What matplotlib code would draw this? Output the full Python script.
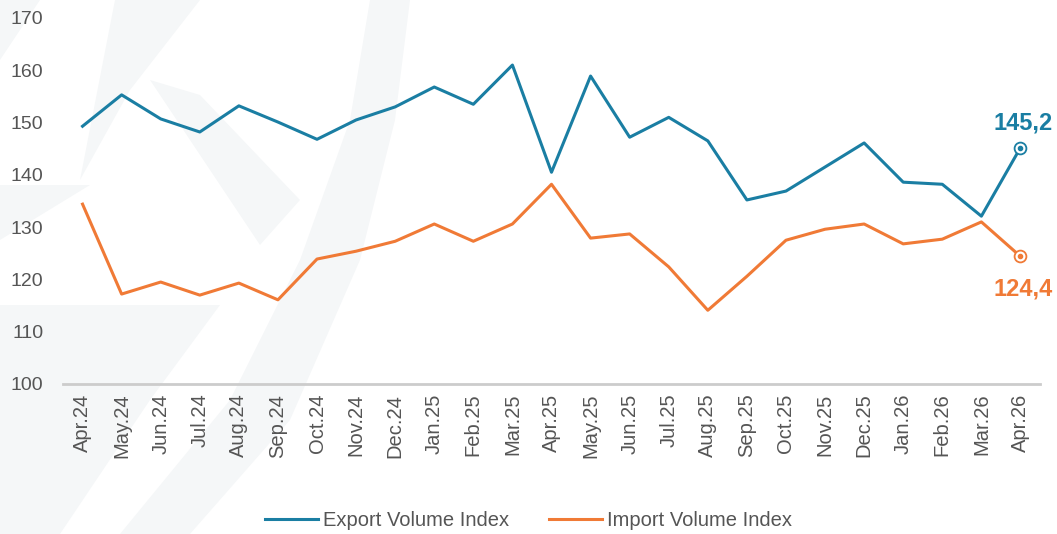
import matplotlib
matplotlib.use("Agg")
import matplotlib.pyplot as plt
from matplotlib.patches import Polygon

months = ["Apr.24", "May.24", "Jun.24", "Jul.24", "Aug.24", "Sep.24", "Oct.24", "Nov.24",
          "Dec.24", "Jan.25", "Feb.25", "Mar.25", "Apr.25", "May.25", "Jun.25", "Jul.25",
          "Aug.25", "Sep.25", "Oct.25", "Nov.25", "Dec.25", "Jan.26", "Feb.26", "Mar.26", "Apr.26"]
export_idx = [149.3, 155.3, 150.7, 148.2, 153.2, 150.1, 146.8, 150.5, 153.0, 156.8, 153.5, 161.0,
              140.5, 158.9, 147.2, 151.0, 146.5, 135.2, 136.9, 141.5, 146.1, 138.6, 138.2, 132.1, 145.2]
import_idx = [134.4, 117.2, 119.5, 117.0, 119.3, 116.1, 123.9, 125.4, 127.3, 130.6, 127.3, 130.6,
              138.2, 127.9, 128.7, 122.4, 114.1, 120.6, 127.5, 129.6, 130.6, 126.8, 127.7, 131.0, 124.4]
yticks = [100, 110, 120, 130, 140, 150, 160, 170]

BLUE = "#1a7ea3"
ORANGE = "#f07a36"
GRAY = "#555555"

plt.rcParams['font.family'] = ['Liberation Sans', 'DejaVu Sans']

fig = plt.figure(figsize=(10.57, 5.34), dpi=100)

# faint watermark shapes in the background (figure pixel coords -> fractions)
W, H = 1057.0, 534.0
def fp(pts):
    return [(px / W, 1 - py / H) for px, py in pts]

wm = "#f5f7f8"
shapes = [
    [(0, 60), (0, 0), (40, 0)],
    [(0, 240), (90, 185), (0, 185)],
    [(0, 305), (220, 305), (150, 400), (60, 534), (0, 534)],
    [(115, 0), (200, 0), (130, 90), (80, 180)],
    [(370, 0), (410, 0), (395, 120), (360, 260), (290, 420), (190, 534), (120, 534), (230, 400), (300, 260), (350, 120)],
    [(150, 80), (260, 245), (300, 200), (200, 95)],
]
for s in shapes:
    fig.add_artist(Polygon(fp(s), closed=True, transform=fig.transFigure,
                           facecolor=wm, edgecolor='none', zorder=-10))

ax = fig.add_axes([63/W, 1-384/H, (1040-63)/W, (384-18)/H], zorder=1)
ax.set_facecolor('none')
x = list(range(len(months)))
ax.plot(x, export_idx, color=BLUE, lw=2.2, label="Export Volume Index", zorder=3)
ax.plot(x, import_idx, color=ORANGE, lw=2.2, label="Import Volume Index", zorder=3)

for vals, col, dy in [(export_idx, BLUE, 13), (import_idx, ORANGE, -28)]:
    ax.plot(x[-1], vals[-1], marker='o', ms=8.5, mfc='white', mec=col, mew=1.3, zorder=4, clip_on=False)
    ax.plot(x[-1], vals[-1], marker='o', ms=3, color=col, zorder=5, clip_on=False)
    ax.annotate(f"{vals[-1]:.1f}".replace('.', ','), (x[-1], vals[-1]),
                xytext=(2, dy), textcoords='offset points', ha='center', va='baseline',
                color=col, fontsize=17, fontweight='bold', annotation_clip=False)

ax.set_xlim(-0.5, 24.5)
ax.set_ylim(100, 170)
ax.set_yticks(yticks)
ax.set_xticks(x)
ax.set_xticklabels(months, rotation=90, fontsize=14.5, color=GRAY)
ax.tick_params(axis='y', labelsize=14, colors=GRAY, length=0, pad=14)
ax.tick_params(axis='x', length=0, pad=7)
for sp in ['top', 'right', 'left']:
    ax.spines[sp].set_visible(False)
ax.spines['bottom'].set_color('#cccccc')
ax.spines['bottom'].set_linewidth(2)

leg = fig.legend(loc='center', ncol=2, frameon=False,
                 fontsize=14.5, handlelength=2.6, handletextpad=0.25, columnspacing=2.0,
                 labelcolor=GRAY, bbox_to_anchor=(0.5, 1 - 521/H), bbox_transform=fig.transFigure)

fig.savefig("out.png", dpi=100)
